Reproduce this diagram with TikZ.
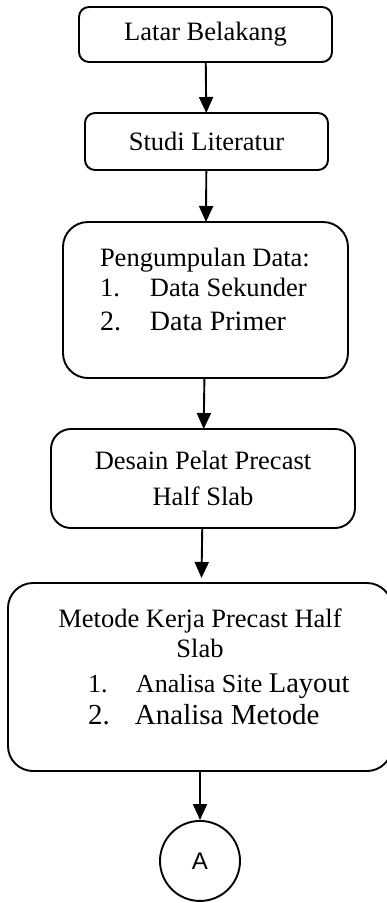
\documentclass[tikz,border=0pt]{standalone}
\usepackage{fontspec}
\setmainfont{Liberation Serif}
\newfontfamily\sansfont{Liberation Sans}
\usetikzlibrary{positioning,arrows.meta}

\begin{document}
\begin{tikzpicture}[x=1pt, y=1pt, node distance={51pt},
  box/.style = {draw, line width=1.9pt, rounded corners=10pt, inner sep=0pt, outer sep=0pt, align=center, font=\fontsize{26.5}{36}\selectfont},
  txt/.style = {inner sep=0pt, outer sep=0pt, align=left, font=\fontsize{26.5}{30}\selectfont},
  conn/.style = {-{Triangle[width=14pt,length=16pt]}, line width=1.9pt}]
\useasboundingbox (0,0) rectangle (387,-903);
\node[box, minimum width=253pt, minimum height=55pt] (lb) at (205.5,-34.5) {Latar Belakang};
\node[box, minimum width=243pt, minimum height=57pt] (sl) [below=of lb, xshift=1pt] {Studi Literatur};
\node[box, rounded corners=25pt, minimum width=285pt, minimum height=156pt] (pd) [below=52pt of sl, xshift=-1pt] {};
\node[txt] (pdtxt) [below right=26pt and 37pt of pd.north west] {Pengumpulan Data:\\ \makebox[50pt][l]{1.}Data Sekunder\\[4pt] {\fontsize{28}{30}\selectfont\makebox[50pt][l]{2.}Data Primer}};
\node[box, rounded corners=20pt, minimum width=304pt, minimum height=99pt] (dp) [below=51pt of pd, xshift=-2.5pt] {Desain Pelat Precast\\Half Slab};
\node[box, rounded corners=25pt, minimum width=384pt, minimum height=188pt] (mk) [below=55pt of dp, xshift=-3pt] {};
\node[txt, align=center] (mkhead) [below=26pt of mk.north] {Metode Kerja Precast Half\\Slab};
\node[txt, font=\fontsize{26}{32}\selectfont] (mklist) [below right=90.5pt and 80pt of mk.north west] {\makebox[48pt][l]{1.}Analisa Site {\fontsize{28.5}{32}\selectfont Layout}\\ {\fontsize{29}{32}\selectfont\makebox[47pt][l]{2.}Analisa Metode}};
\node[draw, circle, line width=1.9pt, minimum size=80pt, inner sep=0pt, font=\sansfont\fontsize{24}{24}\selectfont] (a) [below=49pt of mk] {A};
\draw[conn] (lb) -- (sl);
\draw[conn] (sl) -- (pd);
\draw[conn] (pd) -- (dp);
\draw[conn, shorten >=5pt] (dp) -- (mk);
\draw[conn] (mk) -- (a);
\end{tikzpicture}
\end{document}
